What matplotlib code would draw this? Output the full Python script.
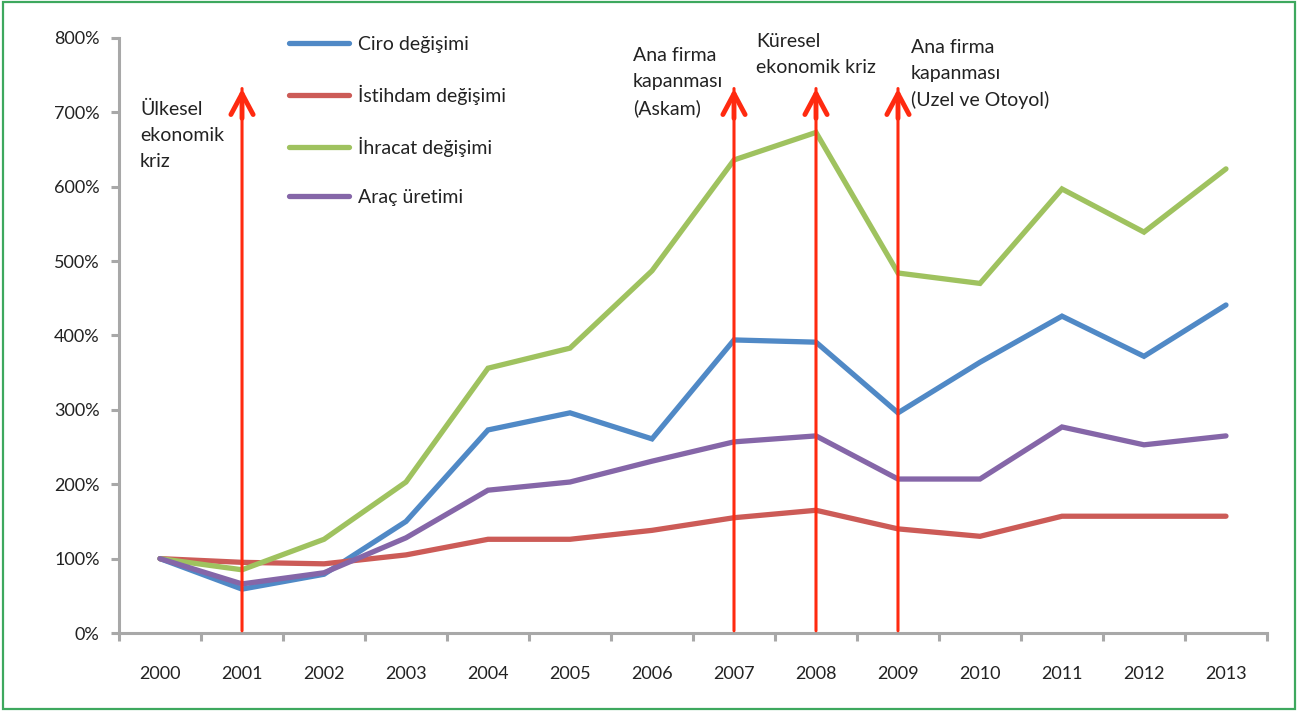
import matplotlib.pyplot as plt
from matplotlib.patches import Rectangle
import numpy as np

plt.rcParams["font.family"] = ["Lato", "DejaVu Sans"]

years = ["2000", "2001", "2002", "2003", "2004", "2005", "2006",
         "2007", "2008", "2009", "2010", "2011", "2012", "2013"]

# values in percent (2000 = 100%)
ciro = [100, 59, 79, 150, 273, 296, 261, 394, 391, 296, 364, 426, 372, 441]
istihdam = [100, 95, 93, 105, 126, 126, 138, 155, 165, 140, 130, 157, 157, 157]
ihracat = [100, 85, 126, 203, 356, 383, 487, 636, 673, 484, 470, 597, 539, 624]
arac = [100, 66, 81, 128, 192, 203, 231, 257, 265, 207, 207, 277, 253, 265]

series_names = ["Ciro değişimi", "İstihdam değişimi", "İhracat değişimi", "Araç üretimi"]
series_colors = ["#5089c6", "#cc5b57", "#9fc25f", "#8566a8"]

# events marked with red arrows
event_years = ["2001", "2007", "2008", "2009"]
event_top = 732

yticks = [0, 100, 200, 300, 400, 500, 600, 700, 800]

fig = plt.figure(figsize=(12.98, 7.11), dpi=100)
ax = fig.add_axes([0.0917, 0.1097, 0.8844, 0.8369])

x = np.arange(len(years))
for vals, name, col in zip([ciro, istihdam, ihracat, arac], series_names, series_colors):
    ax.plot(x, vals, color=col, lw=3.8, solid_capstyle="round",
            solid_joinstyle="miter", label=name, zorder=3)

red = "#ff2a10"
for ey in event_years:
    xe = years.index(ey)
    ax.annotate("", xy=(xe, event_top), xytext=(xe, 3),
                arrowprops=dict(arrowstyle="-", lw=2.2, color=red,
                                shrinkA=0, shrinkB=0), zorder=4)
    ax.annotate("", xy=(xe, event_top), xytext=(xe, event_top - 40),
                arrowprops=dict(arrowstyle="->,head_length=0.75,head_width=0.4",
                                lw=3.5, color=red, mutation_scale=20,
                                shrinkA=0, shrinkB=0), zorder=4)

ax.set_xlim(-0.5, len(years) - 0.5)
ax.set_ylim(0, 800)
ax.set_yticks(yticks)
ax.set_yticklabels([f"{v}%" for v in yticks])
ax.set_xticks(x)
ax.set_xticklabels(years)
ax.set_xticks(np.arange(-0.5, len(years)), minor=True)

gray = "#a8a8a8"
for s in ["top", "right"]:
    ax.spines[s].set_visible(False)
for s in ["left", "bottom"]:
    ax.spines[s].set_color(gray)
    ax.spines[s].set_linewidth(2.2)
ax.tick_params(axis="x", which="major", length=0, pad=24, labelsize=13, colors="#222222")
ax.tick_params(axis="x", which="minor", length=6, width=2.2, color=gray)
ax.tick_params(axis="y", length=6, width=2.2, color=gray, pad=8, labelsize=13,
               labelcolor="#222222")

txt_kw = dict(fontsize=14, color="#222222", va="top", ha="left", linespacing=1.62)
fig.text(140 / 1298, 1 - 101 / 711, "Ülkesel\nekonomik\nkriz", **txt_kw)
fig.text(633 / 1298, 1 - 47 / 711, "Ana firma\nkapanması\n(Askam)", **txt_kw)
fig.text(756 / 1298, 1 - 33 / 711, "Küresel\nekonomik kriz", **txt_kw)
fig.text(911 / 1298, 1 - 39 / 711, "Ana firma\nkapanması\n(Uzel ve Otoyol)", **txt_kw)

leg = ax.legend(loc="upper left", bbox_to_anchor=(289 / 1298, 1 - 36 / 711),
                bbox_transform=fig.transFigure, frameon=False, fontsize=14,
                handlelength=3.1, handletextpad=0.45, labelspacing=1.64,
                borderaxespad=0, borderpad=0)
for t in leg.get_texts():
    t.set_color("#222222")

fig.patches.append(Rectangle((0.002, 0.003), 0.996, 0.994, transform=fig.transFigure,
                             fill=False, edgecolor="#3ea85e", lw=1.6))

fig.savefig("out.png", dpi=100)
